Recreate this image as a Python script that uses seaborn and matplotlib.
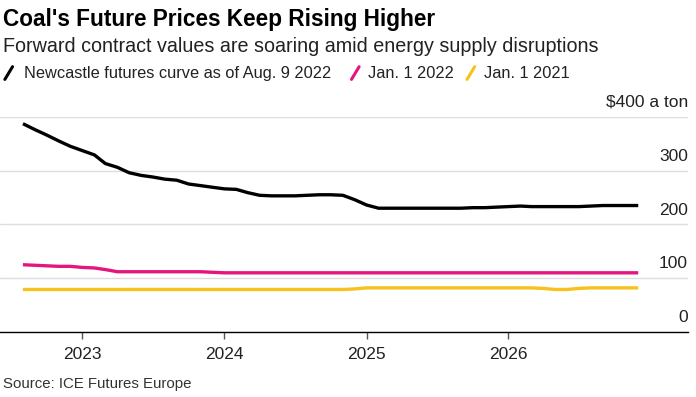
import matplotlib
matplotlib.use("Agg")
import matplotlib.pyplot as plt
from matplotlib.lines import Line2D
import seaborn as sns
import pandas as pd

# monthly contract months, Aug 2022 .. Dec 2026
months = pd.date_range("2022-08-01", periods=53, freq="MS")

newcastle_aug9_2022 = [387, 376, 366, 355, 345, 337, 329, 313, 306, 296,
                       291, 288, 284, 282, 275, 272, 269, 266, 265, 259,
                       254, 253, 253, 253, 254, 255, 255, 254, 246, 236,
                       230, 230, 230, 230, 230, 230, 230, 230, 231, 231,
                       232, 233, 234, 233, 233, 233, 233, 233, 234, 235,
                       235, 235, 235]
jan1_2022 = [125, 124, 123, 122, 122, 120, 119, 116, 112, 112,
             112, 112, 112, 112, 112, 112, 111, 110, 110, 110,
             110, 110, 110, 110, 110, 110, 110, 110, 110, 110,
             110, 110, 110, 110, 110, 110, 110, 110, 110, 110,
             110, 110, 110, 110, 110, 110, 110, 110, 110, 110,
             110, 110, 110]
jan1_2021 = [79, 79, 79, 79, 79, 79, 79, 79, 79, 79,
             79, 79, 79, 79, 79, 79, 79, 79, 79, 79,
             79, 79, 79, 79, 79, 79, 79, 79, 80, 82,
             82, 82, 82, 82, 82, 82, 82, 82, 82, 82,
             82, 82, 82, 82, 81, 79, 79, 81, 82, 82,
             82, 82, 82]

series_names = ["Newcastle futures curve as of Aug. 9 2022", "Jan. 1 2022", "Jan. 1 2021"]
series_colors = ["#000000", "#e5157f", "#f7c21c"]
y_ticks = [0, 100, 200, 300, 400]
y_labels = ["0", "100", "200", "300", "$400 a ton"]
x_years = [2023, 2024, 2025, 2026]

df = pd.concat([
    pd.DataFrame({"month": months, "price": newcastle_aug9_2022, "series": series_names[0]}),
    pd.DataFrame({"month": months, "price": jan1_2022, "series": series_names[1]}),
    pd.DataFrame({"month": months, "price": jan1_2021, "series": series_names[2]}),
])

sns.set_theme(style="white")
plt.rcParams["font.family"] = ["Liberation Sans", "DejaVu Sans"]

fig = plt.figure(figsize=(6.96, 3.97), dpi=100)
ax = fig.add_axes([0.0, 0.1637, 0.9885, 0.5423])

sns.lineplot(data=df, x="month", y="price", hue="series", hue_order=series_names,
             palette=series_colors, linewidth=2.4, legend=False, ax=ax)
for line in ax.get_lines():
    line.set_solid_capstyle("butt")
    line.set_clip_on(False)

ax.set_ylim(0, 400)
ax.set_xlim(pd.Timestamp("2022-06-03"), pd.Timestamp("2027-04-08"))
ax.set_yticks(y_ticks)
ax.set_yticklabels([])
ax.tick_params(axis="y", length=0)
ax.grid(axis="y", color="#dedede", linewidth=1)
ax.set_axisbelow(True)
for s in ["top", "right", "left"]:
    ax.spines[s].set_visible(False)
ax.spines["bottom"].set_color("#000000")
ax.spines["bottom"].set_linewidth(1)

ax.set_xticks([pd.Timestamp(f"{y}-01-01") for y in x_years])
ax.set_xticklabels([str(y) for y in x_years])
ax.tick_params(axis="x", length=5, width=1, color="#555555", labelsize=12.5,
               labelcolor="#222222", pad=6, bottom=True)
ax.set_xlabel("")
ax.set_ylabel("")

for v, lab in zip(y_ticks, y_labels):
    ax.annotate(lab, xy=(1.0, v), xycoords=("axes fraction", "data"),
                xytext=(0, 7), textcoords="offset points",
                ha="right", va="baseline", fontsize=12.5, color="#222222")

fig.text(0.004, 0.952, "Coal's Future Prices Keep Rising Higher", fontsize=16.3,
         fontweight="bold", color="#000000", va="center", ha="left")
fig.text(0.004, 0.882, "Forward contract values are soaring amid energy supply disruptions",
         fontsize=14.2, color="#222222", va="center", ha="left")

# legend row
leg_x = [0.034, 0.529, 0.695]
mark_x = [0.007, 0.505, 0.671]
for lx, mx, name, col in zip(leg_x, mark_x, series_names, series_colors):
    fig.add_artist(Line2D([mx, mx + 0.011], [0.800, 0.832], color=col, linewidth=2.2,
                          transform=fig.transFigure))
    fig.text(lx, 0.814, name, fontsize=11.8, color="#222222", va="center", ha="left")

fig.text(0.004, 0.033, "Source: ICE Futures Europe", fontsize=10.8, color="#333333",
         va="center", ha="left")

fig.savefig("out.png", dpi=100)
